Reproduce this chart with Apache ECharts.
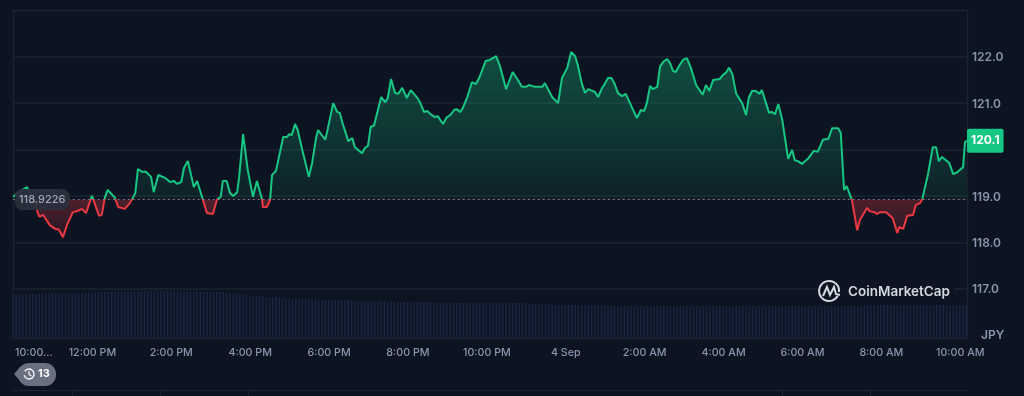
<!DOCTYPE html>
<html>
<head>
<meta charset="utf-8">
<style>
html,body{margin:0;padding:0;background:#0d1421;}
#main{width:1024px;height:396px;}
</style>
<script src="https://cdn.jsdelivr.net/npm/echarts@6/dist/echarts.min.js"></script>
</head>
<body>
<div id="main"></div>
<script>
// minutes since 10:00 AM
var times = [0,11,21,26,32,38,40,46,56,64,70,76,82,91,97,105,111,120,131,135,140,144,155,160,170,178,186,190,196,202,210,214,221,231,239,245,249,256,260,266,275,280,289,295,304,306,310,316,319,325,330,335,341,344,350,357,365,371,379,380,386,391,394,400,411,417,420,424,429,433,440,450,455,461,464,475,479,487,493,497,502,505,510,516,520,523,531,535,540,544,549,560,566,570,575,581,586,592,595,599,605,614,619,625,630,637,642,646,654,660,665,671,675,680,684,691,698,704,709,719,725,735,741,750,760,767,770,774,780,785,794,805,809,820,829,835,843,849,855,859,865,870,875,885,890,896,899,905,910,914,920,926,932,935,941,949,955,960,964,969,973,980,984,989,995,999,1004,1008,1014,1019,1025,1031,1039,1049,1054,1059,1065,1075,1080,1084,1089,1094,1100,1109,1115,1119,1124,1130,1135,1139,1150,1154,1159,1164,1170,1179,1185,1189,1194,1200,1205,1209,1218,1224,1232,1240,1246,1249,1255,1259,1264,1268,1276,1284,1288,1299,1303,1310,1314,1319,1328,1338,1345,1348,1354,1360,1363,1369,1373,1380,1383,1392,1399,1404,1408,1413,1424,1430,1436,1445,1448,1451];
var prices = [118.98,119.10,119.19,119.08,118.89,118.63,118.55,118.59,118.37,118.29,118.27,118.11,118.37,118.65,118.67,118.72,118.63,119.00,118.57,118.59,118.98,119.13,118.96,118.76,118.72,118.85,119.06,119.58,119.52,119.52,119.41,119.08,119.45,119.39,119.30,119.32,119.26,119.30,119.60,119.75,119.19,119.32,118.91,118.63,118.61,118.57,118.91,118.98,119.32,119.32,119.06,119.00,119.08,119.41,120.33,119.56,118.98,119.32,118.91,118.76,118.76,118.91,119.45,119.54,120.27,120.27,120.33,120.31,120.55,120.42,119.99,119.41,119.71,120.25,120.42,120.21,120.46,121.00,120.81,120.79,120.53,120.51,120.18,120.25,120.05,120.03,119.92,120.03,120.08,120.49,120.51,121.13,121.02,121.11,121.52,121.22,121.20,121.33,121.35,121.11,121.28,121.13,121.02,120.81,120.83,120.74,120.70,120.72,120.55,120.70,120.74,120.85,120.87,120.81,120.89,121.13,121.45,121.41,121.54,121.91,121.93,122.01,121.78,121.30,121.67,121.52,121.50,121.35,121.35,121.39,121.35,121.35,121.43,121.13,121.00,121.54,121.76,122.10,122.01,121.82,121.43,121.22,121.30,121.24,121.13,121.33,121.39,121.54,121.54,121.45,121.22,121.15,121.20,121.17,120.92,120.68,120.85,120.83,121.00,121.37,121.30,121.35,121.78,121.89,121.95,121.87,121.69,121.67,121.82,121.93,121.97,121.76,121.39,121.18,121.39,121.26,121.50,121.52,121.61,121.65,121.76,121.63,121.20,121.00,120.74,121.11,121.26,121.26,121.20,121.28,120.79,120.81,120.76,120.98,120.64,119.80,119.99,119.77,119.75,119.69,119.75,119.80,119.97,119.95,120.21,120.23,120.46,120.48,120.46,120.36,119.13,119.21,118.91,118.26,118.48,118.74,118.67,118.65,118.61,118.65,118.65,118.52,118.20,118.33,118.29,118.57,118.61,118.59,118.80,118.85,118.93,119.49,120.05,120.05,119.75,119.84,119.71,119.47,119.51,119.62,120.16,120.19];
// one bar per 5 minutes, one row per hour
var volumes = [
43,43,43,44,44,44,44,44,45,45,45,45,
45,45,45,45,45,45,45,45,45,45,45,45,
45,46,46,46,46,46,46,46,46,46,46,46,
46,46,46,46,47,47,47,47,47,47,47,47,
47,47,47,47,46,46,46,46,46,46,46,46,
46,46,46,46,46,45,45,45,45,44,44,43,
42,42,42,42,41,41,41,41,41,40,40,40,
40,39,39,39,39,39,39,39,39,38,38,38,
38,38,38,38,38,38,38,37,37,37,37,37,
37,37,37,37,37,37,36,36,36,36,36,36,
36,36,36,36,36,36,36,36,36,35,35,35,
35,35,35,35,35,35,35,35,35,35,35,35,
35,35,35,35,35,35,35,35,35,35,35,35,
35,34,34,34,34,34,34,34,34,33,33,33,
33,33,33,33,33,33,33,33,33,33,33,33,
32,32,32,32,32,32,32,32,32,32,32,32,
32,32,32,32,32,32,32,32,32,32,32,32,
32,32,32,32,32,32,32,32,32,32,32,32,
32,32,32,32,32,32,32,32,32,32,32,32,
32,32,32,32,32,32,32,32,32,32,32,32,
32,32,32,32,32,32,32,32,32,32,32,32,
32,32,32,32,32,32,32,32,33,33,33,33,
33,33,33,33,33,33,33,33,33,33,33,33,
33,33,33,33,33,33,33,33,33,33,33,33,
33,33,33
];
var xTickLabels = ['10:00...','12:00 PM','2:00 PM','4:00 PM','6:00 PM','8:00 PM','10:00 PM','4 Sep','2:00 AM','4:00 AM','6:00 AM','8:00 AM','10:00 AM'];
// 120.0 sits under the price tag, so it gets no label
var yTicks = [117,118,119,121,122];
var baseline = 118.9226;
var lastPrice = 120.19;
var lastLabel = '120.1';

var green = '#16c784', red = '#ea3943', gridColor = '#1b2230', textColor = '#8a96ad', bg = '#0d1421';
var font = 'Inter';

var linePts = [];
for (var i = 0; i < times.length; i++) linePts.push([times[i], prices[i]]);
var volPts = [];
for (var j = 0; j < volumes.length; j++) volPts.push([j * 5, volumes[j]]);

// area gradient: green above the baseline, red below it
var hi = Math.max.apply(null, prices), lo = Math.min.apply(null, prices);
var cut = (hi - baseline) / (hi - lo);

var myChart = echarts.init(document.getElementById('main'));
myChart.setOption({
    animation: false,
    backgroundColor: bg,
    textStyle: { fontFamily: font },
    grid: [
        { left: 13, right: 57, top: 10.3, bottom: 60.9 },
        { left: 13, right: 57, top: 291, bottom: 58 }
    ],
    xAxis: [{
        type: 'value', gridIndex: 0, min: 0, max: 1451,
        axisLine: { show: false }, axisTick: { show: false },
        axisLabel: { show: false }, splitLine: { show: false }
    }, {
        type: 'value', gridIndex: 1, min: 0, max: 1451, interval: 120,
        axisLine: { show: false }, axisTick: { show: false },
        splitLine: { show: false },
        axisLabel: {
            color: textColor, fontSize: 10.7, fontWeight: 500, margin: 9, fontFamily: font,
            padding: [0, 1, 0, 2],
            alignMinLabel: 'left',
            showMaxLabel: false,
            formatter: function (v) { return xTickLabels[v / 120] || ''; }
        }
    }],
    yAxis: [{
        type: 'value', gridIndex: 0, position: 'right', min: 116, max: 123, interval: 1,
        axisLine: { show: false }, axisTick: { show: false },
        splitLine: { showMinLine: false, showMaxLine: false, lineStyle: { color: gridColor, width: 1.5 } },
        axisLabel: {
            margin: 5,
            rich: { t: { color: textColor, fontSize: 12, fontWeight: 600, fontFamily: font, padding: [2, 0, 0, 0] } },
            formatter: function (v) { return yTicks.indexOf(v) >= 0 ? '{t|' + v.toFixed(1) + '}' : ''; }
        }
    }, {
        type: 'value', gridIndex: 1, min: 0, max: 47, show: false
    }],
    visualMap: {
        show: false, type: 'piecewise', dimension: 1, seriesIndex: 0,
        pieces: [
            { gt: baseline, lte: 123, color: green },
            { gte: 116, lte: baseline, color: red }
        ]
    },
    series: [{
        type: 'line',
        xAxisIndex: 0, yAxisIndex: 0,
        data: linePts,
        symbol: 'none',
        z: 3,
        lineStyle: { width: 2 },
        areaStyle: {
            origin: baseline,
            opacity: 1,
            color: {
                type: 'linear', x: 0, y: 0, x2: 0, y2: 1,
                colorStops: [
                    { offset: 0, color: 'rgba(22,199,132,0.33)' },
                    { offset: cut, color: 'rgba(22,199,132,0.07)' },
                    { offset: cut, color: 'rgba(234,57,67,0.30)' },
                    { offset: 1, color: 'rgba(234,57,67,0.10)' }
                ]
            }
        },
        markLine: {
            silent: true,
            symbol: 'none',
            animation: false,
            z: 6,
            data: [{
                yAxis: baseline,
                lineStyle: { color: '#7f8799', type: [1.5, 3.5], width: 1 },
                label: {
                    show: true, position: 'insideStart', distance: [2, 0],
                    align: 'left', verticalAlign: 'middle',
                    formatter: baseline.toFixed(4),
                    color: '#a1a7bb', fontSize: 11, fontWeight: 500, fontFamily: font,
                    backgroundColor: 'rgba(42,47,60,0.95)', borderRadius: 7, padding: [5, 4]
                }
            }, {
                yAxis: lastPrice,
                lineStyle: { color: 'transparent' },
                label: {
                    show: true, position: 'end', distance: 0,
                    formatter: lastLabel,
                    color: '#ffffff', fontSize: 12, fontWeight: 700, fontFamily: font,
                    backgroundColor: green, borderRadius: 2, padding: [6, 4, 6, 4]
                }
            }]
        }
    }, {
        type: 'bar',
        xAxisIndex: 1, yAxisIndex: 1,
        data: volPts,
        barWidth: 1.6,
        itemStyle: { color: '#1a2440' },
        silent: true
    }],
    graphic: [
        // plot frame
        { type: 'rect', z: -1, shape: { x: 13.5, y: 10.5, width: 954, height: 328 }, style: { fill: 'none', stroke: gridColor, lineWidth: 1.5 } },
        { type: 'text', left: 981, top: 329, style: { text: 'JPY', fill: textColor, fontSize: 12, fontWeight: 600, fontFamily: font } },
        // footer rule
        { type: 'line', shape: { x1: 13, y1: 390.5, x2: 967, y2: 390.5 }, style: { stroke: gridColor, lineWidth: 1 } },
        { type: 'line', shape: { x1: 72.5, y1: 390, x2: 72.5, y2: 396 }, style: { stroke: gridColor, lineWidth: 1 } },
        { type: 'line', shape: { x1: 160.5, y1: 390, x2: 160.5, y2: 396 }, style: { stroke: gridColor, lineWidth: 1 } },
        { type: 'line', shape: { x1: 248.5, y1: 390, x2: 248.5, y2: 396 }, style: { stroke: gridColor, lineWidth: 1 } },
        { type: 'line', shape: { x1: 782.5, y1: 390, x2: 782.5, y2: 396 }, style: { stroke: gridColor, lineWidth: 1 } },
        { type: 'line', shape: { x1: 870.5, y1: 390, x2: 870.5, y2: 396 }, style: { stroke: gridColor, lineWidth: 1 } },
        // events badge
        { type: 'polygon', shape: { points: [[14, 374], [21, 366], [21, 382]] }, style: { fill: '#6a7080' } },
        { type: 'rect', shape: { x: 18, y: 363, width: 38, height: 23, r: 11 }, style: { fill: '#6a7080' } },
        { type: 'arc', shape: { cx: 29, cy: 374, r: 5, startAngle: -2.6, endAngle: 2.9 }, style: { stroke: '#fff', fill: 'none', lineWidth: 1.3 } },
        { type: 'polyline', shape: { points: [[29, 371], [29, 374.5], [31.5, 376]] }, style: { stroke: '#fff', fill: 'none', lineWidth: 1.1 } },
        { type: 'text', left: 38, top: 368, style: { text: '13', fill: '#ffffff', fontSize: 11, fontWeight: 700, fontFamily: font } },
        // CoinMarketCap mark, gridline stops behind it
        { type: 'rect', z: 20, shape: { x: 817, y: 279, width: 137, height: 24 }, style: { fill: bg } },
        { type: 'arc', z: 21, shape: { cx: 829, cy: 291, r: 10, startAngle: 0.5, endAngle: 0.1 + Math.PI * 2 }, style: { stroke: '#d3d8e2', fill: 'none', lineWidth: 2 } },
        { type: 'polyline', z: 21, shape: { points: [[823, 296], [827, 287], [830, 295], [834, 287], [836, 294], [840, 295]] }, style: { stroke: '#d3d8e2', fill: 'none', lineWidth: 2 } },
        { type: 'text', z: 21, left: 848, top: 285, style: { text: 'CoinMarketCap', fill: '#d3d8e2', fontSize: 13.5, fontWeight: 600, fontFamily: font } }
    ]
});
</script>
</body>
</html>
